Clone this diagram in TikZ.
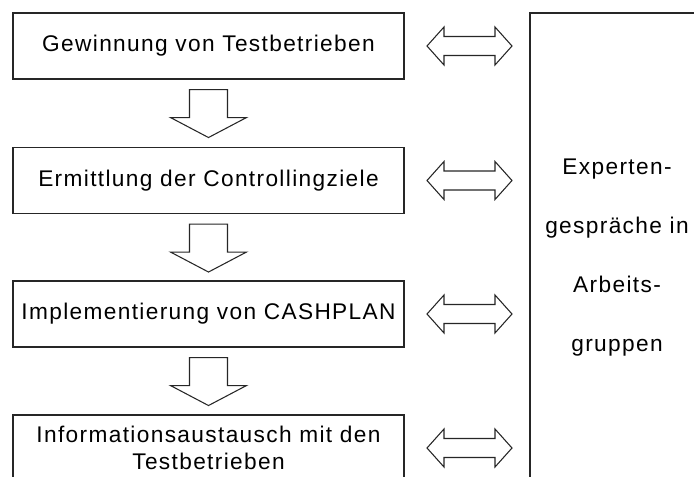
\documentclass[tikz,border=0pt]{standalone}
\usepackage{fontspec}
\setmainfont{Liberation Sans}[LetterSpace=6]
\usetikzlibrary{calc}
\begin{document}
\begin{tikzpicture}[x=0.75pt,y=-0.75pt,
  outline/.style={draw=black!85,line width=0.8pt,fill=white},
  stagebox/.style={outline,rectangle,minimum width=293.25pt,minimum height=49.5pt,
    inner sep=0pt,align=center,font=\fontsize{17}{20}\selectfont},
  panel/.style={outline,rectangle,minimum width=130.5pt,minimum height=367.5pt,
    inner sep=0pt,align=center,font=\fontsize{17}{44.25}\selectfont},
  downarrow/.pic={\path[outline] (-19,0) -- (-19,28) -- (-38,28) -- (0,48)
    -- (38,28) -- (19,28) -- (19,0) -- cycle;},
  exchange/.pic={\path[outline] (-42.5,0) -- (-25.5,-19) -- (-25.5,-9.5)
    -- (25.5,-9.5) -- (25.5,-19) -- (42.5,0) -- (25.5,19) -- (25.5,9.5)
    -- (-25.5,9.5) -- (-25.5,19) -- cycle;}
]
\useasboundingbox (0,0) rectangle (694,476);
\clip (0,0) rectangle (694,476);

% process steps
\node[stagebox] (s1) at (208.5,46) {Gewinnung von Testbetrieben};
\node[stagebox] (s2) at (208.5,180.5) {Ermittlung der Controllingziele};
\node[stagebox] (s3) at (208.5,314) {Implementierung von CASHPLAN};
\node[stagebox] (s4) at (208.5,448) {Informationsaustausch mit den\\Testbetrieben};

% accompanying expert panel
\node[panel] (experts) at (617,258) {Experten-\\gespräche in\\Arbeits-\\gruppen};

% block arrows between the steps
\pic at ($(s1.south)+(0,10)$) {downarrow};
\pic at ($(s2.south)+(0,10)$) {downarrow};
\pic at ($(s3.south)+(0,10)$) {downarrow};

% exchange with the expert panel
\coordinate (lane) at (469.5,0);
\pic at (lane |- s1) {exchange};
\pic at (lane |- s2) {exchange};
\pic at (lane |- s3) {exchange};
\pic at (lane |- s4) {exchange};
\end{tikzpicture}
\end{document}
